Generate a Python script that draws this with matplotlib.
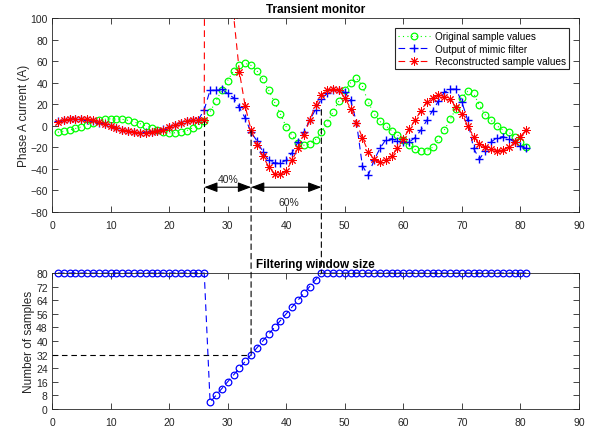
import numpy as np
import matplotlib
matplotlib.use('Agg')
import matplotlib.pyplot as plt
from matplotlib.patches import ConnectionPatch

plt.rcParams['font.family'] = ['Liberation Sans', 'DejaVu Sans']

samples = list(range(1, 82))

original = [-6, -5, -4, -2.5, -1, 1, 3, 5, 6, 6.5, 6.5, 6, 5, 3.5, 2, 0, -2, -4, -5.5, -6.5, -6.5, -6, -4.5, -2, 0.5, 4,
            13, 23, 33, 42, 51, 56, 58, 56, 51, 43, 33, 22, 11, -1,
            -9, -16, -18, -17, -13, -6, 3, 13, 23, 33, 40, 44, 37, 22, 11,
            4, 0, -4.5, -8.5, -13.5, -18, -22, -23.5, -23, -20, -12, -4, 6, 16, 26,
            32, 30, 19, 10, 5, 0, -4, -6, -10, -15, -20]

mimic = [4, 5.5, 6, 6.5, 6, 5.5, 4.5, 3, 1.5, -0.5, -2.5, -4, -5, -6, -6.5, -6, -5.5, -4.5, -3, -1, 1, 3, 4.5, 5.5, 5.5,
         15,
         33, 33, 34, 30, 26, 17, 7, -6, -14,
         -24, -32, -34.5, -34.5, -32, -25, -15, -6, 5, 15,
         25, 30, 33, 33, 31, 24, 3, -37, -46, -32,
         -21, -13, -12, -14, -15, -15, -11, -4, 5, 14,
         23, 31, 34, 34, 22, 5, -21, -31, -23, -15,
         -11, -10, -12, -15, -19, -21]

reconstructed = [3.5, 5, 6, 6.5, 6.5, 6, 5, 3.5, 2, 0, -2, -3.5, -5, -6, -6.5, -6.5, -6, -5, -3.5, -1.5, 0.5, 2.5, 4, 5, 5.5, 5.5,
                 3000, 3500, 3200, 2500, 103,
                 50, 18, -4, -18, -28, -38, -45, -45, -42,
                 -32, -21, -9, 5, 19, 29, 33, 34, 33, 26,
                 16, 3, -11, -24, -31, -34, -32, -28, -21, -12,
                 -3, 5, 14, 22, 26, 28.5, 27, 25, 17, 11,
                 0, -10, -17, -20, -22, -23, -22.5, -20, -15, -10, -3.5]

window = [80, 80, 80, 80, 80, 80, 80, 80, 80, 80, 80, 80, 80, 80, 80, 80, 80, 80, 80, 80, 80, 80, 80, 80, 80, 80,
          4, 8, 12, 16, 20, 24, 28, 32, 36, 40, 44, 48, 52, 56, 60, 64, 68, 72, 76, 80,
          80, 80, 80, 80, 80, 80, 80, 80, 80, 80, 80, 80, 80, 80, 80, 80, 80, 80, 80, 80, 80, 80, 80, 80, 80,
          80, 80, 80, 80, 80, 80, 80, 80, 80, 80]

legend_labels = ['Original sample values', 'Output of mimic filter', 'Reconstructed sample values']
pct_labels = ['40%', '60%']

axc = '#262626'
W, H = 595, 431
fig = plt.figure(figsize=(W / 100, H / 100), dpi=100)
ax1 = fig.add_axes([52 / W, 1 - 213 / H, 527 / W, 194 / H])
ax2 = fig.add_axes([52 / W, 1 - 410 / H, 527 / W, 136 / H])

star = (8, 2, 0)
ax1.plot(samples, original, linestyle=(0, (1, 3)), color='#00ff00', lw=0.8, marker='o',
         mfc='none', mec='#00ff00', ms=4.8, mew=0.9, label=legend_labels[0])
ax1.plot(samples, mimic, linestyle=(0, (6, 4)), color='#0000ff', lw=0.8, marker='+',
         ms=6, mew=1.0, label=legend_labels[1])
ax1.plot(samples, reconstructed, linestyle=(0, (6, 4)), color='#ff0000', lw=0.8, marker=star,
         ms=6, mew=0.7, label=legend_labels[2])

ax1.set_xlim(0, 90)
ax1.set_ylim(-80, 100)
ax1.set_xticks(range(0, 91, 10))
ax1.set_yticks(range(-80, 101, 20))
ax1.set_title('Transient monitor', fontsize=8.5, fontweight='bold', pad=4)
ax1.set_ylabel('Phase A current (A)', fontsize=8.5, color=axc, labelpad=0)

leg = ax1.legend(loc='upper right', bbox_to_anchor=(0.981, 0.948), fontsize=7.2, frameon=True,
                 fancybox=False, edgecolor=axc, framealpha=1, handlelength=3.2,
                 borderpad=0.3, labelspacing=0.25, handletextpad=0.5, borderaxespad=0.0)
leg.get_frame().set_linewidth(0.8)

# dashed guide lines
dk = dict(color='black', lw=0.8, linestyle=(0, (5, 3.5)))
ax1.plot([26, 26], [4, -80], **dk)
ax2.plot([0, 34], [32, 32], **dk)
for (xa, ya, yb) in [(34, -4.5, 32), (46, 15, 80)]:
    cp = ConnectionPatch(xyA=(xa, ya), coordsA='data', axesA=ax1,
                         xyB=(xa, yb), coordsB='data', axesB=ax2, **dk)
    fig.add_artist(cp)

arr = dict(arrowstyle='<|-|>,head_length=0.8,head_width=0.3', color='black', lw=0.8,
           shrinkA=0, shrinkB=0)
ax1.annotate('', xy=(34, -57), xytext=(26, -57), arrowprops=arr)
ax1.annotate('', xy=(46, -57), xytext=(34, -57), arrowprops=arr)
ax1.text(30, -49, pct_labels[0], fontsize=7.5, color=axc, ha='center', va='center')
ax1.text(40.5, -71, pct_labels[1], fontsize=7.5, color=axc, ha='center', va='center')

ax2.plot(samples, window, linestyle=(0, (6, 4)), color='#0000ff', lw=0.8, marker='o',
         mfc='none', mec='#0000ff', ms=4.8, mew=0.9, clip_on=False)
ax2.set_xlim(0, 90)
ax2.set_ylim(0, 80)
ax2.set_xticks(range(0, 91, 10))
ax2.set_yticks(range(0, 81, 8))
ax2.set_title('Filtering window size', fontsize=8.5, fontweight='bold', pad=4)
ax2.set_ylabel('Number of samples', fontsize=8.5, color=axc, labelpad=1)

for ax in (ax1, ax2):
    ax.tick_params(direction='in', length=4, width=0.6, colors=axc, labelsize=7.5,
                   top=True, right=True, pad=3)
    ax.tick_params(axis='x', pad=6)
    for s in ax.spines.values():
        s.set_color(axc)
        s.set_linewidth(0.6)

fig.savefig('out.png', dpi=100)
